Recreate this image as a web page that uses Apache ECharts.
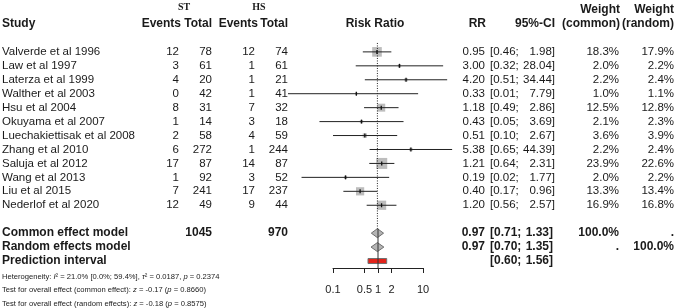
<!DOCTYPE html>
<html>
<head>
<meta charset="utf-8">
<script src="https://cdn.jsdelivr.net/npm/echarts@6/dist/echarts.min.js"></script>
<style>
html, body { margin: 0; padding: 0; background: #fff; }
#forest { width: 677px; height: 308px; }
</style>
</head>
<body>
<div id="forest"></div>
<script>
// study data (ST vs HS)
var studies = ['Valverde et al 1996', 'Law et al 1997', 'Laterza et al 1999', 'Walther et al 2003',
    'Hsu et al 2004', 'Okuyama et al 2007', 'Luechakiettisak et al 2008', 'Zhang et al 2010',
    'Saluja et al 2012', 'Wang et al 2013', 'Liu et al 2015', 'Nederlof et al 2020'];
var stEvents = [12, 3, 4, 0, 8, 1, 2, 6, 17, 1, 7, 12];
var stTotal = [78, 61, 20, 42, 31, 14, 58, 272, 87, 92, 241, 49];
var hsEvents = [12, 1, 1, 1, 7, 3, 4, 1, 14, 3, 17, 9];
var hsTotal = [74, 61, 21, 41, 32, 18, 59, 244, 87, 52, 237, 44];
var rr = [0.95, 3.00, 4.20, 0.33, 1.18, 0.43, 0.51, 5.38, 1.21, 0.19, 0.40, 1.20];
var ciLow = [0.46, 0.32, 0.51, 0.01, 0.49, 0.05, 0.10, 0.65, 0.64, 0.02, 0.17, 0.56];
var ciHigh = [1.98, 28.04, 34.44, 7.79, 2.86, 3.69, 2.67, 44.39, 2.31, 1.77, 0.96, 2.57];
var wCommon = [18.3, 2.0, 2.2, 1.0, 12.5, 2.1, 3.6, 2.2, 23.9, 2.0, 13.3, 16.9];
var wRandom = [17.9, 2.2, 2.4, 1.1, 12.8, 2.3, 3.9, 2.4, 22.6, 2.2, 13.4, 16.8];

// pooled results
var totals = [1045, 970];
var commonEffect = [0.97, 0.71, 1.33];
var randomEffect = [0.97, 0.70, 1.35];
var predInterval = [0.60, 1.56];
var axisTicks = [0.1, 0.5, 1, 2, 10];

var SANS = '"Liberation Sans", Arial, sans-serif';
var TXT = '#1a1a1a';
function font(size, bold) {
    return (bold ? 'bold ' : '') + size + 'px ' + SANS;
}

// rows: studies 0..11, common 13, random 14, prediction 15
var texts = [];
function put(row, x, str, align, f, rich) {
    texts.push({row: row, x: x, text: str, align: align || 'left', font: f || font(11.5), rich: rich});
}

// header
var H = font(12, true);
put(-3.22, 184, 'ST', 'center', 'bold 10px "Liberation Serif", serif');
put(-3.22, 259, 'HS', 'center', 'bold 10px "Liberation Serif", serif');
put(-3.05, 620, 'Weight', 'right', H);
put(-3.05, 674, 'Weight', 'right', H);
put(-2, 2, 'Study', 'left', H);
put(-2, 181, 'Events', 'right', H);
put(-2, 212, 'Total', 'right', H);
put(-2, 258, 'Events', 'right', H);
put(-2, 288, 'Total', 'right', H);
put(-2, 375, 'Risk Ratio', 'center', H);
put(-2, 486, 'RR', 'right', H);
put(-2, 555, '95%-CI', 'right', H);
put(-2, 620, '(common)', 'right', H);
put(-2, 674, '(random)', 'right', H);

studies.forEach(function (name, i) {
    put(i, 2, name);
    put(i, 179, String(stEvents[i]), 'right');
    put(i, 212, String(stTotal[i]), 'right');
    put(i, 255, String(hsEvents[i]), 'right');
    put(i, 288, String(hsTotal[i]), 'right');
    put(i, 485, rr[i].toFixed(2), 'right');
    put(i, 490, '[' + ciLow[i].toFixed(2) + ';', 'left');
    put(i, 555, ciHigh[i].toFixed(2) + ']', 'right');
    put(i, 619, wCommon[i].toFixed(1) + '%', 'right');
    put(i, 674, wRandom[i].toFixed(1) + '%', 'right');
});

// summary rows
var B = font(12, true);
put(13, 2, 'Common effect model', 'left', B);
put(13, 212, String(totals[0]), 'right', B);
put(13, 288, String(totals[1]), 'right', B);
put(13, 485, commonEffect[0].toFixed(2), 'right', B);
put(13, 490, '[' + commonEffect[1].toFixed(2) + ';', 'left', B);
put(13, 553, commonEffect[2].toFixed(2) + ']', 'right', B);
put(13, 619, '100.0%', 'right', B);
put(13, 674, '.', 'right', B);
put(14, 2, 'Random effects model', 'left', B);
put(14, 485, randomEffect[0].toFixed(2), 'right', B);
put(14, 490, '[' + randomEffect[1].toFixed(2) + ';', 'left', B);
put(14, 553, randomEffect[2].toFixed(2) + ']', 'right', B);
put(14, 619, '.', 'right', B);
put(14, 674, '100.0%', 'right', B);
put(15, 2, 'Prediction interval', 'left', B);
put(15, 490, '[' + predInterval[0].toFixed(2) + ';', 'left', B);
put(15, 553, predInterval[1].toFixed(2) + ']', 'right', B);

// footer
var FS = 7.6;
var footRich = {
    n: {fontSize: FS, fontFamily: SANS, fill: TXT},
    i: {fontSize: FS, fontFamily: SANS, fontStyle: 'italic', fill: TXT}
};
put(16.15, 2, '{n|Heterogeneity: }{i|I}{n|² = 21.0% [0.0%; 59.4%], }{i|τ}{n|² = 0.0187, }{i|p}{n| = 0.2374}', 'left', font(FS), footRich);
put(17.1, 2, '{n|Test for overall effect (common effect): }{i|z}{n| = -0.17 (}{i|p}{n| = 0.8660)}', 'left', font(FS), footRich);
put(18.09, 2, '{n|Test for overall effect (random effects): }{i|z}{n| = -0.18 (}{i|p}{n| = 0.8575)}', 'left', font(FS), footRich);

var maxW = Math.max.apply(null, wCommon);
var maxSquare = 11;

var chart = echarts.init(document.getElementById('forest'));

var option = {
    animation: false,
    grid: {left: 333, right: 254, top: 24, bottom: 40, outerBoundsMode: 'none'},
    xAxis: {
        type: 'log',
        logBase: 10,
        min: 0.1,
        max: 10,
        axisLine: {show: true, onZero: false, lineStyle: {color: '#222', width: 1}},
        axisTick: {show: true, length: 5, customValues: axisTicks, lineStyle: {color: '#222', width: 1}},
        axisLabel: {
            customValues: axisTicks,
            margin: 16,
            fontSize: 11,
            fontFamily: SANS,
            color: '#222',
            formatter: function (v) {
                return v < 1 ? (+v).toFixed(1) : String(Math.round(v));
            }
        },
        splitLine: {show: false}
    },
    yAxis: {type: 'value', min: -2, max: 15.5, inverse: true, show: false},
    series: [
        { // common effect dotted line
            type: 'line',
            silent: true,
            symbol: 'none',
            data: [[commonEffect[0], -0.64], [commonEffect[0], 12.68]],
            lineStyle: {color: '#222', width: 1, type: [1, 1.5]}
        },
        { // reference line at 1 below the pooled rows
            type: 'line',
            silent: true,
            symbol: 'none',
            data: [[1, 12.68], [1, 15.5]],
            lineStyle: {color: '#333', width: 1}
        },
        { // studies
            type: 'custom',
            silent: true,
            clip: false,
            data: studies.map(function (s, i) {
                return [rr[i], i, ciLow[i], ciHigh[i], wCommon[i]];
            }),
            encode: {x: 0, y: 1},
            renderItem: function (params, api) {
                var row = api.value(1);
                var p = api.coord([api.value(0), row]);
                var lo = api.coord([api.value(2), row]);
                var hi = api.coord([api.value(3), row]);
                var side = maxSquare * Math.sqrt(api.value(4) / maxW);
                return {
                    type: 'group',
                    children: [
                        {type: 'rect', shape: {x: p[0] - side / 2, y: p[1] - side / 2, width: side, height: side},
                            style: {fill: '#bdbdbd'}},
                        {type: 'line', shape: {x1: lo[0], y1: p[1], x2: hi[0], y2: p[1]},
                            style: {stroke: '#222', lineWidth: 1}},
                        {type: 'line', shape: {x1: p[0], y1: p[1] - 2, x2: p[0], y2: p[1] + 2},
                            style: {stroke: '#111', lineWidth: 1.3}}
                    ]
                };
            }
        },
        { // pooled diamonds
            type: 'custom',
            silent: true,
            clip: false,
            data: [
                [commonEffect[0], 13, commonEffect[1], commonEffect[2]],
                [randomEffect[0], 14, randomEffect[1], randomEffect[2]]
            ],
            encode: {x: 0, y: 1},
            renderItem: function (params, api) {
                var row = api.value(1);
                var p = api.coord([api.value(0), row]);
                var lo = api.coord([api.value(2), row]);
                var hi = api.coord([api.value(3), row]);
                var h = 4.5;
                return {
                    type: 'polygon',
                    shape: {points: [[lo[0], p[1]], [p[0], p[1] - h], [hi[0], p[1]], [p[0], p[1] + h]]},
                    style: {fill: '#b4b4b4', stroke: '#6e6e6e', lineWidth: 1}
                };
            }
        },
        { // prediction interval
            type: 'custom',
            silent: true,
            clip: false,
            data: [[predInterval[0], 15, predInterval[1]]],
            encode: {x: 0, y: 1},
            renderItem: function (params, api) {
                var lo = api.coord([api.value(0), api.value(1)]);
                var hi = api.coord([api.value(2), api.value(1)]);
                return {
                    type: 'rect',
                    shape: {x: lo[0], y: lo[1] - 2.5, width: hi[0] - lo[0], height: 5},
                    style: {fill: '#e2231a', stroke: '#707070', lineWidth: 1}
                };
            }
        },
        { // table text
            type: 'custom',
            silent: true,
            clip: false,
            data: texts.map(function (t) { return [1, t.row]; }),
            encode: {x: 0, y: 1},
            renderItem: function (params, api) {
                var t = texts[params.dataIndex];
                var y = api.coord([1, t.row])[1];
                var style = {
                    text: t.text,
                    font: t.font,
                    fill: TXT,
                    align: t.align,
                    verticalAlign: 'middle'
                };
                if (t.rich) style.rich = t.rich;
                return {type: 'text', x: t.x, y: y, style: style};
            }
        }
    ]
};

chart.setOption(option);
</script>
</body>
</html>
